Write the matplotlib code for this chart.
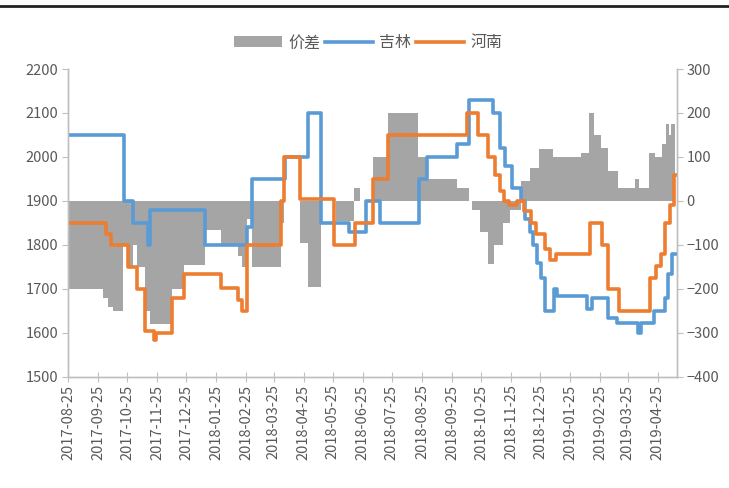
import matplotlib
matplotlib.use("Agg")
import matplotlib.pyplot as plt
import matplotlib.dates as mdates
from matplotlib.lines import Line2D
from matplotlib.patches import Patch
import pandas as pd

plt.rcParams['font.family'] = ['Noto Sans CJK SC', 'DejaVu Sans']

# 吉林 (left axis), step breakpoints
jilin_dates = ["2017-08-25", "2017-10-22", "2017-10-31", "2017-11-15", "2017-11-18",
               "2018-01-13", "2018-02-26", "2018-03-03", "2018-04-06", "2018-04-29",
               "2018-05-13", "2018-06-11", "2018-06-28", "2018-07-13", "2018-08-22",
               "2018-08-30", "2018-09-30", "2018-10-13", "2018-11-06", "2018-11-13",
               "2018-11-19", "2018-11-26", "2018-12-05", "2018-12-09", "2018-12-14",
               "2018-12-18", "2018-12-22", "2018-12-26", "2018-12-30", "2019-01-08",
               "2019-01-11", "2019-02-11", "2019-02-16", "2019-03-05", "2019-03-14",
               "2019-04-05", "2019-04-08", "2019-04-21", "2019-05-03", "2019-05-06",
               "2019-05-10", "2019-05-15"]
jilin_vals = [2050, 1900, 1850, 1800, 1880,
              1800, 1840, 1950, 2000, 2100,
              1850, 1830, 1900, 1850, 1950,
              2000, 2030, 2130, 2100, 2020,
              1980, 1930, 1900, 1860, 1830,
              1800, 1760, 1725, 1650, 1700,
              1684, 1655, 1680, 1635, 1623,
              1600, 1623, 1650, 1680, 1735,
              1780, 1780]

# 河南 (left axis)
henan_dates = ["2017-08-25", "2017-10-03", "2017-10-08", "2017-10-26", "2017-11-04",
               "2017-11-12", "2017-11-22", "2017-11-24", "2017-12-10", "2017-12-23",
               "2018-01-30", "2018-02-16", "2018-02-20", "2018-02-26", "2018-04-02",
               "2018-04-05", "2018-04-21", "2018-05-26", "2018-06-17", "2018-07-05",
               "2018-07-21", "2018-10-10", "2018-10-22", "2018-11-01", "2018-11-08",
               "2018-11-13", "2018-11-18", "2018-11-23", "2018-12-01", "2018-12-08",
               "2018-12-15", "2018-12-21", "2018-12-30", "2019-01-04", "2019-01-10",
               "2019-02-14", "2019-02-27", "2019-03-05", "2019-03-16", "2019-04-17",
               "2019-04-23", "2019-04-28", "2019-05-03", "2019-05-08", "2019-05-12",
               "2019-05-15"]
henan_vals = [1850, 1825, 1800, 1750, 1700,
              1605, 1585, 1600, 1680, 1735,
              1703, 1675, 1650, 1800, 1900,
              2000, 1905, 1800, 1850, 1950,
              2050, 2100, 2050, 2000, 1960,
              1922, 1900, 1890, 1900, 1877,
              1850, 1825, 1790, 1765, 1780,
              1850, 1800, 1700, 1650, 1725,
              1752, 1780, 1850, 1890, 1960,
              1960]

# 价差 (right axis)
spread_dates = ["2017-08-25", "2017-09-30", "2017-10-05", "2017-10-10", "2017-10-21",
                "2017-10-26", "2017-10-31", "2017-11-04", "2017-11-12", "2017-11-18",
                "2017-12-10", "2017-12-23", "2018-01-13", "2018-01-30", "2018-02-16",
                "2018-02-20", "2018-02-26", "2018-03-03", "2018-04-02", "2018-04-05",
                "2018-04-21", "2018-04-29", "2018-05-13", "2018-05-28", "2018-06-16",
                "2018-06-22", "2018-07-05", "2018-07-21", "2018-08-21", "2018-08-30",
                "2018-09-30", "2018-10-12", "2018-10-16", "2018-10-24", "2018-11-01",
                "2018-11-07", "2018-11-17", "2018-11-24", "2018-12-05", "2018-12-14",
                "2018-12-24", "2019-01-07", "2019-02-05", "2019-02-13", "2019-02-18",
                "2019-02-26", "2019-03-05", "2019-03-15", "2019-04-02", "2019-04-06",
                "2019-04-16", "2019-04-22", "2019-04-29", "2019-05-04", "2019-05-07",
                "2019-05-09", "2019-05-13", "2019-05-15"]
spread_vals = [-200, -220, -240, -250, -100,
               -150, -100, -150, -250, -280,
               -200, -145, -65, -97, -125,
               -150, -40, -150, -50, 0,
               -95, -195, 0, -45, 30,
               0, 100, 200, 100, 50,
               30, 0, -20, -70, -143,
               -100, -50, -20, 45, 75,
               118, 100, 110, 200, 150,
               120, 68, 30, 50, 30,
               110, 100, 130, 175, 150,
               175, 0, 0]

blue = '#5B9BD5'
orange = '#ED7D31'
gray = '#A5A5A5'
txt = '#595959'
axc = '#BFBFBF'

fig = plt.figure(figsize=(7.29, 4.88), dpi=100)
ax = fig.add_axes([0.0933, 0.2275, 0.8354, 0.6311])
ax2 = ax.twinx()

sd = pd.to_datetime(spread_dates)
ax2.fill_between(sd, 0, spread_vals, step='post', color=gray, lw=0)
ax2.set_ylim(-400, 300)
ax2.set_yticks(range(-400, 301, 100))

ax.plot(pd.to_datetime(jilin_dates), jilin_vals, drawstyle='steps-post', color=blue, lw=2.6, solid_joinstyle='round')
ax.plot(pd.to_datetime(henan_dates), henan_vals, drawstyle='steps-post', color=orange, lw=2.6, solid_joinstyle='round')
ax.set_ylim(1500, 2200)
ax.set_yticks(range(1500, 2201, 100))

ax.set_zorder(ax2.get_zorder() + 1)
ax.patch.set_visible(False)

ax.set_xlim(pd.Timestamp("2017-08-25"), pd.Timestamp("2019-05-15"))
ax.xaxis.set_major_locator(mdates.MonthLocator(bymonthday=25))
ax.xaxis.set_major_formatter(mdates.DateFormatter('%Y-%m-%d'))
for lab in ax.get_xticklabels():
    lab.set_rotation(90)

for a in (ax, ax2):
    for s in ('top',):
        a.spines[s].set_visible(False)
    for s in ('left', 'right', 'bottom'):
        a.spines[s].set_color(axc)
        a.spines[s].set_linewidth(1.0)
    a.tick_params(colors=txt, labelsize=10.5, length=4, color=axc)
ax.tick_params(axis='x', direction='inout', length=7, pad=2)
ax.tick_params(axis='y', pad=3)
ax2.tick_params(axis='y', pad=3)

handles = [Patch(facecolor=gray, edgecolor='none'),
           Line2D([], [], color=blue, lw=2.6),
           Line2D([], [], color=orange, lw=2.6)]
fig.legend(handles, ['价差', '吉林', '河南'], loc='center', bbox_to_anchor=(0.505, 0.912),
           ncol=3, frameon=False, fontsize=11.5, handlelength=3.0, handletextpad=0.4,
           columnspacing=0.3, labelcolor=txt)

fig.add_artist(Line2D([0, 1], [0.988, 0.988], color='#222222', lw=2.0, transform=fig.transFigure))

fig.savefig('out.png', dpi=100)
